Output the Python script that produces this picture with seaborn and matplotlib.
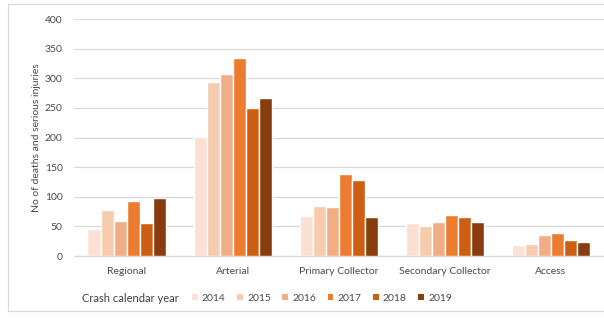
import matplotlib
matplotlib.use("Agg")
import matplotlib.pyplot as plt
import matplotlib.patches as mpatches
import seaborn as sns
import pandas as pd

categories = ["Regional", "Arterial", "Primary Collector", "Secondary Collector", "Access"]
years = ["2014", "2015", "2016", "2017", "2018", "2019"]
values = {
    "2014": [45, 201, 68, 55, 18],
    "2015": [77, 294, 84, 51, 20],
    "2016": [59, 308, 82, 57, 35],
    "2017": [92, 335, 138, 69, 38],
    "2018": [56, 250, 128, 65, 27],
    "2019": [98, 266, 65, 57, 24],
}
colors = ["#FBE0D3", "#F6CBAE", "#F1AE86", "#EC7C30", "#CD5E12", "#873D0E"]
y_ticks = [0, 50, 100, 150, 200, 250, 300, 350, 400]

rows = []
for y in years:
    for c, v in zip(categories, values[y]):
        rows.append({"Road class": c, "Crash calendar year": y, "Count": v})
df = pd.DataFrame(rows)

sns.set_theme(style="white")
plt.rcParams["font.family"] = ["Lato", "DejaVu Sans"]

fig = plt.figure(figsize=(6.04, 3.2), dpi=100)
ax = fig.add_axes([0.122, 0.2, 0.878, 0.7406])

sns.barplot(data=df, x="Road class", y="Count", hue="Crash calendar year",
            order=categories, hue_order=years, palette=colors,
            width=0.74, gap=0, saturation=1, legend=False, ax=ax, zorder=3)

ax.set_ylim(0, 400)
ax.set_yticks(y_ticks)
ax.set_xlim(-0.5, len(categories) - 0.5)
ax.yaxis.grid(True, color="#D9D9D9", linewidth=0.9, zorder=0)
ax.set_axisbelow(True)
for s in ["top", "right", "left"]:
    ax.spines[s].set_visible(False)
ax.spines["bottom"].set_color("#D9D9D9")
ax.spines["bottom"].set_linewidth(0.9)
ax.tick_params(axis="both", length=0, labelsize=7.5, labelcolor="#4A4A4A")
ax.tick_params(axis="x", pad=8)
ax.tick_params(axis="y", pad=8)
ax.set_xlabel("")
ax.set_ylabel("No of deaths and serious injuries", fontsize=7.5, color="#4A4A4A", labelpad=3)

# legend row along the bottom
fig.text(0.136, 0.068, "Crash calendar year", fontsize=8, color="#404040",
         ha="left", va="center")
handles = [mpatches.Patch(facecolor=c, edgecolor="none", label=y) for c, y in zip(colors, years)]
fig.legend(handles=handles, loc="center left", bbox_to_anchor=(0.318, 0.068),
           ncol=6, frameon=False, fontsize=7.5, labelcolor="#4A4A4A",
           handlelength=0.55, handleheight=0.55, handletextpad=0.4,
           columnspacing=1.1, borderaxespad=0, borderpad=0)

# light frame around the chart
frame = mpatches.Rectangle((0.013, 0.027), 1.2, 0.96, transform=fig.transFigure,
                           fill=False, edgecolor="#D9D9D9", linewidth=0.9)
fig.patches.append(frame)

fig.savefig("out.png", dpi=100)
